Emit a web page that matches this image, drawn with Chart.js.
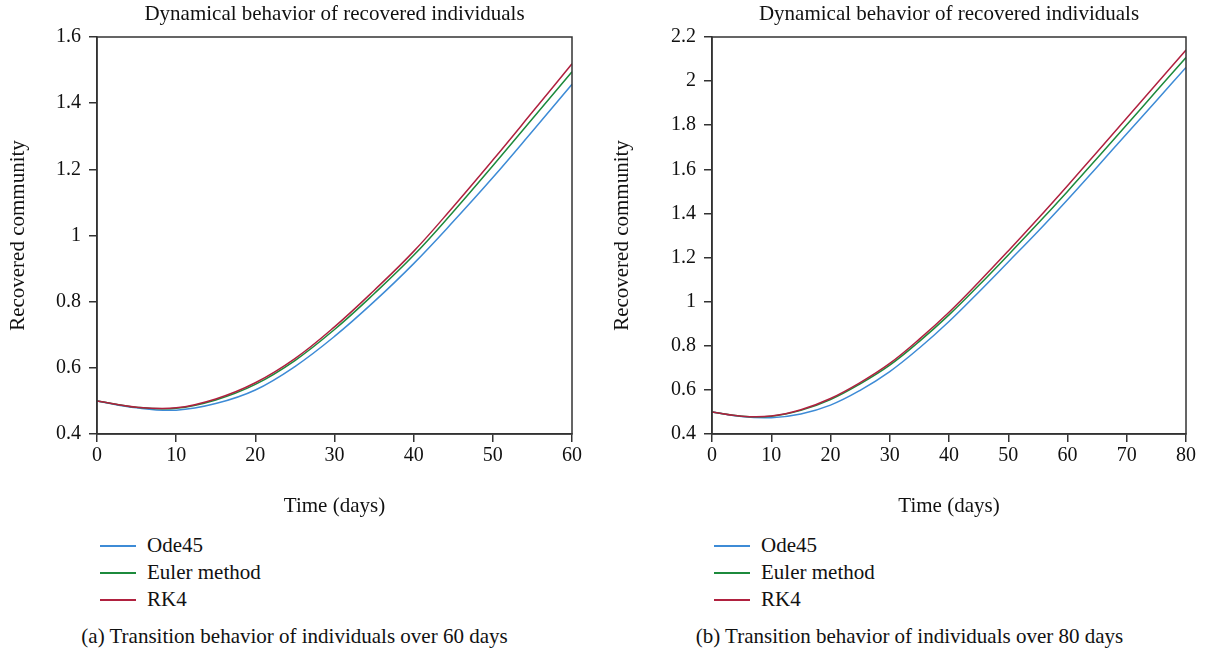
<!DOCTYPE html>
<html>
<head>
<meta charset="utf-8">
<script src="https://cdn.jsdelivr.net/npm/chart.js@4"></script>
<style>
  body { margin: 0; background: #fff; font-family: "Liberation Serif", serif; color: #111; }
  .wrap { display: flex; width: 1206px; height: 656px; }
  .panel { position: relative; width: 603px; height: 656px; }
  .panel canvas { position: absolute; left: 0; top: 0; }
  .legend { position: absolute; top: 532px; font-size: 21px; }
  .legend div { height: 27px; line-height: 27px; display: flex; align-items: center; }
  .legend span.ln { display: inline-block; width: 36px; height: 2px; margin-right: 11px; }
  .caption { position: absolute; top: 623px; width: 603px; text-align: center; font-size: 21px; line-height: 26px; }
</style>
</head>
<body>
<div class="wrap">
  <div class="panel">
    <canvas id="chartA" width="603" height="530"></canvas>
    <div class="legend" id="legendA" style="left:100px"></div>
    <div class="caption" style="left:-7px">(a) Transition behavior of individuals over 60 days</div>
  </div>
  <div class="panel">
    <canvas id="chartB" width="603" height="530"></canvas>
    <div class="legend" id="legendB" style="left:111px"></div>
    <div class="caption" style="left:5px">(b) Transition behavior of individuals over 80 days</div>
  </div>
</div>
<script>
// (a) 60 days
const daysA = [0, 5, 10, 15, 20, 25, 30, 35, 40, 45, 50, 55, 60];
const ode45A = [0.500, 0.479, 0.472, 0.492, 0.533, 0.604, 0.695, 0.800, 0.915, 1.042, 1.175, 1.315, 1.457];
const eulerA = [0.500, 0.481, 0.478, 0.503, 0.550, 0.622, 0.716, 0.824, 0.940, 1.072, 1.211, 1.353, 1.495];
const rk4A = [0.500, 0.481, 0.479, 0.506, 0.555, 0.628, 0.724, 0.834, 0.952, 1.087, 1.228, 1.373, 1.519];

// (b) 80 days
const daysB = [0, 5, 10, 15, 20, 25, 30, 35, 40, 45, 50, 55, 60, 65, 70, 75, 80];
const ode45B = [0.500, 0.479, 0.474, 0.491, 0.531, 0.598, 0.683, 0.790, 0.910, 1.043, 1.180, 1.318, 1.462, 1.611, 1.761, 1.911, 2.062];
const eulerB = [0.500, 0.481, 0.481, 0.507, 0.556, 0.627, 0.712, 0.820, 0.940, 1.073, 1.212, 1.354, 1.500, 1.650, 1.802, 1.955, 2.107];
const rk4B = [0.500, 0.481, 0.482, 0.510, 0.561, 0.633, 0.720, 0.830, 0.952, 1.088, 1.230, 1.376, 1.526, 1.679, 1.833, 1.987, 2.141];

const seriesNames = ['Ode45', 'Euler method', 'RK4'];
const seriesColors = ['#3d8bd6', '#1c8a3c', '#b0213f'];

const chartTitle = 'Dynamical behavior of recovered individuals';
const xTitle = 'Time (days)';
const yTitle = 'Recovered community';

const axisColor = '#333';
const font = 'Liberation Serif';

// draws the top and right edges of the axes box
const boxPlugin = {
  id: 'box',
  afterDraw(chart) {
    const a = chart.chartArea;
    const ctx = chart.ctx;
    ctx.save();
    ctx.strokeStyle = axisColor;
    ctx.lineWidth = 1.5;
    ctx.strokeRect(a.left, a.top, a.right - a.left, a.bottom - a.top);
    ctx.restore();
  }
};

function makeChart(id, legendId, days, lists, xMax, yMax, yAxisWidth, padRight, yTitlePad) {
  const datasets = lists.map((vals, i) => ({
    label: seriesNames[i],
    data: days.map((d, j) => ({ x: d, y: vals[j] })),
    borderColor: seriesColors[i],
    borderWidth: 1.5,
    pointRadius: 0,
    tension: 0.4,
    fill: false,
    order: lists.length - i  // RK4 ends up on top
  }));

  const chart = new Chart(document.getElementById(id), {
    type: 'line',
    data: { datasets: datasets },
    plugins: [boxPlugin],
    options: {
      responsive: false,
      animation: false,
      layout: { padding: { left: 0, right: padRight, top: 0, bottom: 0 } },
      plugins: {
        legend: { display: false },
        tooltip: { enabled: false },
        title: {
          display: true,
          text: chartTitle,
          fullSize: false,
          color: '#111',
          font: { family: font, size: 21, weight: 'normal' },
          padding: { top: 2, bottom: 9.8 }
        }
      },
      scales: {
        x: {
          type: 'linear',
          min: 0,
          max: xMax,
          ticks: { stepSize: 10, color: '#111', padding: 2, maxRotation: 0, font: { family: font, size: 20 } },
          grid: { drawOnChartArea: false, tickLength: 8, color: axisColor, lineWidth: 1.5 },
          border: { color: axisColor, width: 1.5 },
          title: { display: true, text: xTitle, color: '#111', font: { family: font, size: 21 }, padding: { top: 0, bottom: 11.4 } },
          afterFit(scale) { scale.height = 96; }
        },
        y: {
          min: 0.4,
          max: yMax,
          ticks: {
            stepSize: 0.2, color: '#111', padding: 8, font: { family: font, size: 20 },
            callback: v => String(Number(v.toFixed(1)))
          },
          grid: { drawOnChartArea: false, tickLength: 8, color: axisColor, lineWidth: 1.5 },
          border: { color: axisColor, width: 1.5 },
          title: { display: true, text: yTitle, color: '#111', font: { family: font, size: 21 }, padding: { top: yTitlePad, bottom: 0 } },
          afterFit(scale) { scale.width = yAxisWidth; }
        }
      }
    }
  });

  // legend list under the axes, built from the chart's datasets
  const box = document.getElementById(legendId);
  chart.data.datasets.forEach(ds => {
    const row = document.createElement('div');
    const ln = document.createElement('span');
    ln.className = 'ln';
    ln.style.background = ds.borderColor;
    row.appendChild(ln);
    row.appendChild(document.createTextNode(ds.label));
    box.appendChild(row);
  });
  return chart;
}

makeChart('chartA', 'legendA', daysA, [ode45A, eulerA, rk4A], 60, 1.6, 97, 31, 5.4);
makeChart('chartB', 'legendB', daysB, [ode45B, eulerB, rk4B], 80, 2.2, 109, 20, 6.4);
</script>
</body>
</html>
